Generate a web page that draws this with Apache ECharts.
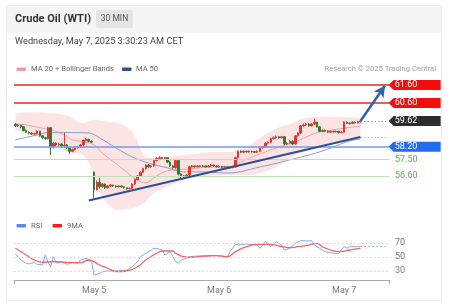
<!DOCTYPE html>
<html><head><meta charset="utf-8">
<script src="https://cdn.jsdelivr.net/npm/echarts@6/dist/echarts.min.js"></script>
<style>html,body{margin:0;padding:0;background:#fff}#c{width:454px;height:306px}</style>
</head><body><div id="c"></div>
<script>
// ---- sessions (30-min bars) ----
const sessions = [
  {day: 'May 2', start: '08:30', bars: 29},
  {day: 'May 5', start: '00:00', bars: 46},
  {day: 'May 6', start: '00:00', bars: 46},
  {day: 'May 7', start: '00:00', bars: 7}
];
const padBars = 10;

// ---- candles: [open, close, low, high] ----
const ohlc = [
 [59.42,59.35,59.28,59.50],[59.35,59.38,59.30,59.45],[59.38,59.30,59.22,59.42],[59.30,59.10,59.05,59.33],
 [59.10,59.00,58.95,59.15],[59.00,58.95,58.88,59.05],[58.95,58.90,58.85,59.00],[58.90,58.92,58.85,58.98],
 [58.92,59.05,58.88,59.12],[59.05,58.80,58.75,59.08],[58.80,58.70,58.62,58.85],[58.70,58.65,58.58,58.75],
 [58.65,59.25,58.60,59.30],[59.25,58.20,57.75,59.28],[58.20,58.40,58.10,58.48],[58.40,58.30,58.22,58.45],
 [58.30,58.35,58.25,58.42],[58.35,58.25,58.18,58.40],[58.25,58.30,58.20,58.97],[58.30,58.15,58.08,58.35],
 [58.15,57.95,57.80,58.18],[57.95,58.05,57.90,58.10],[58.05,58.15,58.00,58.20],[58.15,58.20,58.10,58.25],
 [58.20,58.30,58.15,58.35],[58.30,58.55,58.25,58.60],[58.55,58.60,58.50,58.68],[58.60,58.50,58.45,58.65],
 [58.50,58.45,58.40,58.55],
 [56.80,55.85,55.40,56.85],[55.85,56.25,55.80,56.35],[56.25,56.00,55.90,56.50],[56.00,56.15,55.95,56.22],
 [56.15,55.95,55.88,56.18],[55.95,56.05,55.90,56.10],[56.05,56.10,56.00,56.15],[56.10,56.05,56.00,56.12],
 [56.05,56.00,55.95,56.08],[56.00,56.05,55.97,56.08],[56.05,56.00,55.95,56.08],[56.00,55.95,55.90,56.02],
 [55.95,55.90,55.85,55.98],[55.90,55.92,55.86,55.96],[55.92,56.15,55.90,56.20],[56.15,56.40,56.10,56.45],
 [56.40,56.60,56.35,56.65],[56.60,56.80,56.55,56.85],[56.80,57.00,56.75,57.05],[57.00,57.20,56.95,57.25],
 [57.20,57.10,57.05,57.25],[57.10,57.15,57.05,57.20],[57.15,57.45,57.10,57.50],[57.45,57.55,57.40,57.62],
 [57.55,57.60,57.50,57.68],[57.60,57.55,57.48,57.65],[57.55,57.60,57.50,57.65],[57.60,57.35,57.30,57.62],
 [57.35,57.15,57.08,57.40],[57.15,57.05,57.00,57.20],[57.05,57.45,57.00,57.50],[57.45,56.70,56.62,57.48],
 [56.70,56.55,56.48,56.75],[56.55,56.60,56.50,56.65],[56.60,56.65,56.55,56.70],[56.65,57.10,56.60,57.15],
 [57.10,57.15,57.05,57.20],[57.15,57.10,57.05,57.18],[57.10,57.15,57.08,57.20],[57.15,57.12,57.08,57.18],
 [57.12,57.15,57.08,57.20],[57.15,57.10,57.05,57.18],[57.10,57.15,57.08,57.20],[57.15,57.20,57.10,57.25],
 [57.20,57.15,57.10,57.22],[57.15,57.10,57.05,57.18],
 [57.10,57.12,57.05,57.18],[57.12,57.08,57.02,57.15],[57.08,57.10,57.03,57.15],[57.10,57.05,57.00,57.12],
 [57.05,57.08,57.00,57.12],[57.08,57.10,57.02,57.15],[57.10,57.60,57.05,57.65],[57.60,57.95,57.55,58.00],
 [57.95,57.90,57.85,58.00],[57.90,57.95,57.88,58.00],[57.95,57.92,57.88,57.98],[57.92,57.95,57.88,58.00],
 [57.95,57.93,57.88,57.98],[57.93,57.90,57.85,57.97],[57.90,57.95,57.86,58.00],[57.95,58.15,57.92,58.20],
 [58.15,58.20,58.10,58.25],[58.20,58.40,58.15,58.45],[58.40,58.45,58.35,58.50],[58.45,58.65,58.40,58.70],
 [58.65,58.70,58.60,58.78],[58.70,58.75,58.65,58.82],[58.75,58.70,58.65,58.80],[58.70,58.75,58.65,58.80],
 [58.75,58.35,58.30,58.78],[58.35,58.40,58.30,58.45],[58.40,58.50,58.35,58.55],[58.50,58.35,58.30,58.55],
 [58.35,58.80,58.32,58.85],[58.80,58.95,58.75,59.00],[58.95,59.35,58.90,59.40],[59.35,59.40,59.30,59.48],
 [59.40,59.45,59.35,59.50],[59.45,59.35,59.30,59.50],[59.35,59.45,59.32,59.50],[59.45,59.55,59.40,59.75],
 [59.55,59.30,59.25,59.58],[59.30,59.05,59.00,59.35],[59.05,59.10,59.00,59.15],[59.10,59.05,59.00,59.15],
 [59.05,59.00,58.95,59.10],[59.00,59.05,58.97,59.10],[59.05,59.02,58.97,59.08],[59.02,59.05,58.98,59.10],
 [59.05,58.98,58.92,59.08],[58.98,59.00,58.94,59.05],
 [59.00,59.55,58.98,59.60],[59.55,59.50,59.45,59.60],[59.50,59.48,59.42,59.55],[59.48,59.55,59.45,59.60],
 [59.55,59.52,59.48,59.60],[59.52,59.58,59.48,59.63],[59.58,59.62,59.52,59.66]
];

// ---- indicators: [barIndex, value] ----
const ma20 = [[0,59.46],[4,59.40],[9,59.25],[14,59.09],[18,58.85],[21,58.58],[25,58.48],[29,58.30],[32,57.86],
  [36,57.39],[40,56.93],[43,56.56],[48,56.22],[51,56.49],[54,56.77],[58,56.93],[64,56.98],[72,57.09],[78,57.09],
  [83,57.37],[87,57.64],[92,57.92],[97,58.19],[102,58.41],[107,58.74],[112,59.02],[117,59.13],[122,59.24],[127,59.35]];
const ma50 = [[0,58.58],[8,58.85],[12,58.98],[20,58.98],[27,58.96],[31,58.69],[37,58.14],[43,57.64],[49,57.31],
  [56,57.04],[62,56.82],[68,56.82],[78,56.76],[90,57.09],[101,57.48],[112,57.92],[123,58.52],[127,58.63]];
const bandIdx   = [0,6,13,19,25,29,31,35,38,41,44,46,48,51,56,62,68,72,78,85,90,96,102,107,112,119,127];
const bandUpper = [60.06,60.10,60.06,59.92,59.51,59.68,59.65,59.57,59.50,59.29,58.80,58.10,57.64,57.62,57.66,57.75,57.85,57.92,57.92,58.19,58.69,59.20,59.51,59.79,59.84,59.84,59.79];
const bandLower = [59.13,58.85,58.58,57.92,57.75,56.55,55.67,54.90,54.73,54.78,54.86,55.00,55.20,55.67,56.00,56.38,56.55,56.60,56.65,56.65,56.76,57.09,57.64,57.95,58.25,58.50,58.58];

const rsi = [[0,53.9],[2,45.7],[4,41.0],[5,40.0],[7,42.4],[8,39.6],[10,38.6],[11,52.9],[12,43.3],[13,36.1],[14,50.4],
  [15,41.4],[17,43.3],[19,39.6],[21,41.9],[23,41.0],[24,45.7],[26,48.1],[27,45.7],[28,43.3],[29,24.3],[30,25.3],
  [31,26.7],[32,29.0],[34,30.0],[36,30.4],[38,30.4],[41,31.4],[43,36.1],[45,43.3],[46,50.4],[48,55.3],[50,60.0],
  [51,62.4],[53,61.4],[54,60.0],[55,52.9],[57,57.6],[58,50.4],[59,43.3],[60,41.0],[61,45.7],[63,48.1],[64,50.4],
  [67,51.4],[69,50.4],[72,51.9],[74,51.9],[76,51.4],[78,49.6],[79,57.6],[81,68.1],[82,67.1],[85,68.6],[86,68.1],
  [89,67.1],[90,62.4],[92,71.9],[93,69.6],[94,64.7],[96,71.9],[98,67.1],[99,60.0],[101,62.4],[103,69.6],[105,73.3],
  [107,72.9],[109,73.3],[110,67.1],[112,62.4],[114,57.6],[117,55.3],[119,55.3],[121,64.7],[122,62.4],[123,64.7],[127,64.7]];
const rsiMa = [[0,62.4],[4,52.9],[7,45.7],[10,42.4],[14,43.3],[19,42.4],[24,41.9],[27,45.7],[31,38.6],[34,33.9],
  [37,29.0],[41,30.0],[45,36.1],[48,45.7],[52,55.3],[54,58.6],[58,58.6],[59,55.3],[62,50.4],[65,49.6],[69,51.4],
  [74,51.9],[78,50.4],[81,57.6],[85,64.7],[89,68.1],[94,68.1],[97,65.7],[101,63.3],[104,64.7],[108,67.1],[111,69.6],
  [113,64.7],[116,60.0],[119,57.6],[123,60.0],[127,62.4]];
const rsiLevels = [70, 50, 30];

// ---- key levels & annotations ----
const resistances = [61.60, 60.60];
const pivot = 58.20;
const supports = [57.50, 56.60];
const trendStart = [27, 55.25];
const trendEnd = [127, 58.74];
const targetEnd = [136, 61.55];

// ---- build categories ----
const cats = [];
sessions.forEach(s => {
  const [h, m] = s.start.split(':').map(Number);
  const t0 = h * 60 + m;
  for (let k = 0; k < s.bars; k++) {
    const t = t0 + 30 * k;
    cats.push(s.day + ' ' + String(Math.floor(t / 60)).padStart(2, '0') + ':' + String(t % 60).padStart(2, '0'));
  }
});
for (let k = 0; k < padBars; k++) cats.push('pad ' + k);
const lastIdx = ohlc.length - 1;
const lastClose = ohlc[lastIdx][1];
const edgeIdx = cats.length - 1;
const lastRsi = rsi[rsi.length - 1];

const FONT = 'Roboto, "Liberation Sans", Arial, sans-serif';
const UP = '#e8352f', DOWN = '#2e7d32';
const boxPath = 'path://M0,5 L5,0 L52,0 L52,10 L5,10 Z';

function box(val, color, text) {
  return {
    coord: [edgeIdx, val], value: text,
    symbol: boxPath, symbolSize: [52, 10], symbolOffset: [27, 0], symbolKeepAspect: false,
    itemStyle: {color: color},
    label: {show: true, position: 'insideLeft', distance: 6, color: '#fff', fontSize: 9, fontFamily: FONT, formatter: text}
  };
}

const chart = echarts.init(document.getElementById('c'), null, {renderer: 'canvas'});
chart.setOption({
  animation: false,
  backgroundColor: '#fff',
  textStyle: {fontFamily: FONT},
  grid: [
    {left: 14, right: 65, top: 74, height: 138.3},
    {left: 14, right: 65, top: 222, height: 58}
  ],
  xAxis: [
    {type: 'category', gridIndex: 0, data: cats, show: false, boundaryGap: true},
    {type: 'category', gridIndex: 1, data: cats, boundaryGap: true,
     axisLine: {lineStyle: {color: '#aaa', width: 1}},
     axisTick: {show: true, length: 4, lineStyle: {color: '#aaa'}, interval: (i) => i === 0},
     axisLabel: {interval: (i, v) => / 00:00$/.test(v), formatter: v => v.split(' ').slice(0, 2).join(' '),
                 color: '#777', fontSize: 9, margin: 6, fontFamily: FONT},
     splitLine: {show: false}}
  ],
  yAxis: [
    {type: 'value', gridIndex: 0, min: 54.6, max: 62.2, show: false, splitLine: {show: false}},
    {type: 'value', gridIndex: 1, min: 17.14, max: 100, show: false, splitLine: {show: false}}
  ],
  series: [
    {type: 'line', name: 'bbLower', xAxisIndex: 0, yAxisIndex: 0, stack: 'bb', smooth: 0.4, symbol: 'none', silent: true, z: 1,
     lineStyle: {width: 0, opacity: 0},
     data: bandIdx.map((i, k) => [i, bandLower[k]])},
    {type: 'line', name: 'bbWidth', xAxisIndex: 0, yAxisIndex: 0, stack: 'bb', smooth: 0.4, symbol: 'none', silent: true, z: 1,
     lineStyle: {width: 0, opacity: 0}, areaStyle: {color: 'rgba(248,165,165,0.30)', opacity: 1},
     data: bandIdx.map((i, k) => [i, +(bandUpper[k] - bandLower[k]).toFixed(3)])},
    {type: 'line', name: 'MA 20', xAxisIndex: 0, yAxisIndex: 0, smooth: 0.4, symbol: 'none', z: 2,
     lineStyle: {color: '#f3a3a3', width: 1}, data: ma20},
    {type: 'line', name: 'MA 50', xAxisIndex: 0, yAxisIndex: 0, smooth: 0.4, symbol: 'none', z: 2,
     lineStyle: {color: '#8d9fcb', width: 1}, data: ma50},
    {type: 'candlestick', name: 'WTI', xAxisIndex: 0, yAxisIndex: 0, z: 3, barWidth: 2,
     itemStyle: {color: UP, color0: DOWN, borderColor: UP, borderColor0: DOWN, borderWidth: 1},
     data: ohlc,
     markLine: {
       silent: true, symbol: ['none', 'none'], animation: false,
       label: {show: false},
       data: [
         ...resistances.map(v => ({yAxis: v, lineStyle: {color: '#e8262a', width: 1.5, type: 'solid'}})),
         {yAxis: pivot, lineStyle: {color: '#6f9cf3', width: 1.5, type: 'solid'}},
         ...supports.map(v => ({yAxis: v, lineStyle: {color: '#bfe0b9', width: 1, type: 'solid'},
            label: {show: true, position: 'end', distance: 6, formatter: v.toFixed(2), color: '#5aad4e', fontSize: 9, fontFamily: FONT}})),
         [{coord: [lastIdx, lastClose], lineStyle: {color: '#999', width: 1, type: [1.5, 2]}}, {coord: [edgeIdx, lastClose]}],
         [{coord: trendEnd, lineStyle: {color: '#a6b6d6', width: 1, type: [1.5, 2]}}, {coord: [edgeIdx, trendEnd[1]]}],
         [{coord: trendStart, lineStyle: {color: '#2f4f93', width: 2.2, type: 'solid'}}, {coord: trendEnd}],
         [{coord: [lastIdx, lastClose], lineStyle: {color: '#2e62ad', width: 2.5, type: 'solid'}},
          {coord: targetEnd, symbol: 'arrow', symbolSize: [9, 11]}]
       ]
     },
     markPoint: {
       silent: true, animation: false,
       data: [
         ...resistances.map(v => box(v, '#f50d0d', v.toFixed(2))),
         box(lastClose, '#2d2d2d', lastClose.toFixed(2)),
         box(pivot, '#1f6cf0', pivot.toFixed(2))
       ]
     }},
    {type: 'line', name: 'RSI', xAxisIndex: 1, yAxisIndex: 1, symbol: 'none', z: 2,
     lineStyle: {color: '#8ba7ef', width: 1}, data: rsi,
     markLine: {
       silent: true, symbol: ['none', 'none'], animation: false,
       data: [
         ...rsiLevels.map(v => ({yAxis: v, lineStyle: {color: '#d0d0d0', width: 1, type: [1.5, 2.5]},
            label: {show: true, position: 'end', distance: 6, formatter: String(v), color: '#777', fontSize: 9, fontFamily: FONT}})),
         [{coord: lastRsi, lineStyle: {color: '#8ba7ef', width: 1, type: [1.5, 2.5]}, label: {show: false}}, {coord: [edgeIdx, lastRsi[1]]}]
       ]
     }},
    {type: 'line', name: '9MA', xAxisIndex: 1, yAxisIndex: 1, symbol: 'none', smooth: 0.4, z: 3,
     lineStyle: {color: '#f26565', width: 1.3}, data: rsiMa}
  ],
  graphic: [
    {type: 'rect', shape: {x: 6.5, y: 5.5, width: 435, height: 295}, style: {fill: 'none', stroke: '#ececec', lineWidth: 1}, z: -10},
    {type: 'rect', shape: {x: 7, y: 6, width: 434, height: 27}, style: {fill: '#f5f5f5'}, z: -9},
    {type: 'text', x: 15, y: 19, style: {text: 'Crude Oil (WTI)', font: 'bold 11px ' + FONT, fill: '#333', verticalAlign: 'middle'}},
    {type: 'rect', shape: {x: 96, y: 10, width: 37, height: 18, r: 2}, style: {fill: '#e4e4e4'}},
    {type: 'text', x: 114.5, y: 19, style: {text: '30 MIN', font: '8.5px ' + FONT, fill: '#555', align: 'center', verticalAlign: 'middle'}},
    {type: 'text', x: 15, y: 42, style: {text: 'Wednesday, May 7, 2025 3:30:23 AM CET', font: '9.2px ' + FONT, fill: '#444', verticalAlign: 'middle'}},
    {type: 'rect', shape: {x: 16.5, y: 67.5, width: 9.5, height: 3.5, r: 1}, style: {fill: '#f59b9b'}},
    {type: 'text', x: 31, y: 69.5, style: {text: 'MA 20 + Bollinger Bands', font: '7.6px ' + FONT, fill: '#666', verticalAlign: 'middle'}},
    {type: 'rect', shape: {x: 122, y: 67.5, width: 9.5, height: 3.5, r: 1}, style: {fill: '#2d4f8f'}},
    {type: 'text', x: 136, y: 69.5, style: {text: 'MA 50', font: '7.6px ' + FONT, fill: '#666', verticalAlign: 'middle'}},
    {type: 'text', x: 436, y: 69.5, style: {text: 'Research © 2025 Trading Central', font: '7.6px ' + FONT, fill: '#a0a0a0', align: 'right', verticalAlign: 'middle'}},
    {type: 'rect', shape: {x: 16.5, y: 224, width: 9.5, height: 3.5, r: 1}, style: {fill: '#5f88ea'}},
    {type: 'text', x: 31, y: 226, style: {text: 'RSI', font: '7.6px ' + FONT, fill: '#666', verticalAlign: 'middle'}},
    {type: 'rect', shape: {x: 52.5, y: 224, width: 9.5, height: 3.5, r: 1}, style: {fill: '#f41e1e'}},
    {type: 'text', x: 67, y: 226, style: {text: '9MA', font: '7.6px ' + FONT, fill: '#666', verticalAlign: 'middle'}}
  ]
});
</script></body></html>
